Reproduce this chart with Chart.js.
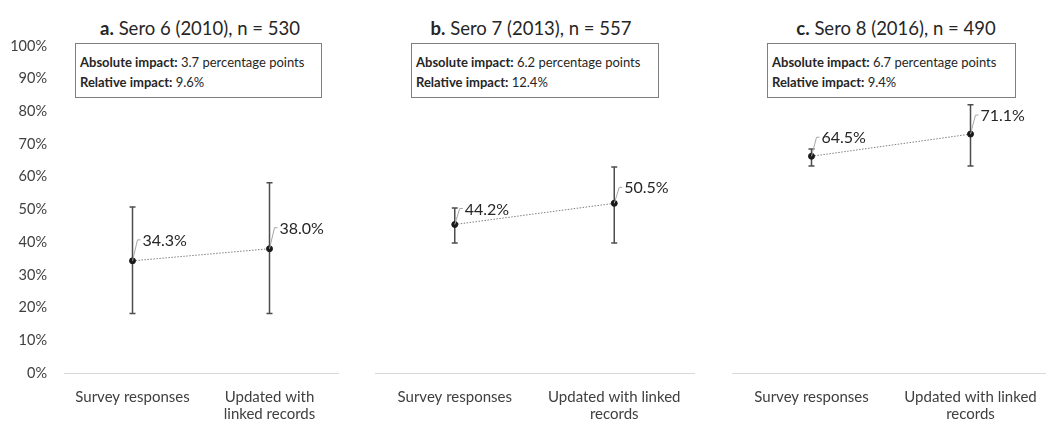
<!DOCTYPE html>
<html>
<head>
<meta charset="utf-8">
<script src="https://cdn.jsdelivr.net/npm/chart.js@4.4.1/dist/chart.umd.min.js"></script>
<style>
    html, body { margin: 0; padding: 0; background: #fff; overflow: hidden; }
    body { width: 1046px; height: 422px; position: relative; font-family: Lato, "Open Sans", sans-serif; color: #262626; }
    canvas { position: absolute; top: 0; }
    .title { position: absolute; top: 15px; width: 300px; text-align: center; font-size: 18.5px; line-height: 26px; }
    .box { position: absolute; top: 43px; height: 55px; box-sizing: border-box; border: 1px solid #7f7f7f; padding: 8px 0 0 4px; font-size: 13px; line-height: 20px; }
</style>
</head>
<body>
<div class="title" id="title0" style="left:50px"></div>
<div class="title" id="title1" style="left:381px"></div>
<div class="title" id="title2" style="left:746px"></div>
<div class="box" id="box0" style="left:75px;width:247px"></div>
<div class="box" id="box1" style="left:411px;width:248px"></div>
<div class="box" id="box2" style="left:767px;width:249px"></div>
<canvas id="chart0" width="343" height="422" style="left:0px"></canvas>
<canvas id="chart1" width="329" height="422" style="left:370px"></canvas>
<canvas id="chart2" width="328" height="422" style="left:727px"></canvas>
<script>
// data
const titlePrefixes = ['a.', 'b.', 'c.'];
const titleTexts = ['Sero 6 (2010), n = 530', 'Sero 7 (2013), n = 557', 'Sero 8 (2016), n = 490'];
const absoluteImpact = ['3.7 percentage points', '6.2 percentage points', '6.7 percentage points'];
const relativeImpact = ['9.6%', '12.4%', '9.4%'];

const tickLabelsWide = ['Survey responses', ['Updated with', 'linked records']];
const tickLabelsNarrow = ['Survey responses', ['Updated with linked', 'records']];
const yTicks = [0, 10, 20, 30, 40, 50, 60, 70, 80, 90, 100];

const sero6Values = [34.3, 38.0];
const sero6Lower = [18.2, 18.2];
const sero6Upper = [50.8, 58.2];

const sero7Values = [44.2, 50.5];
const sero7Lower = [38.7, 38.7];
const sero7Upper = [49.1, 61.3];

const sero8Values = [64.5, 71.1];
const sero8Lower = [61.6, 61.6];
const sero8Upper = [66.7, 79.8];

const FONT = 'Lato, "Open Sans", sans-serif';

// error bars drawn under the points
const errorBarsPlugin = {
    id: 'errorBars',
    beforeDatasetsDraw(chart, args, opts) {
        const ctx = chart.ctx;
        const x = chart.scales.x;
        const y = chart.scales.y;
        ctx.save();
        ctx.strokeStyle = '#4d4d4d';
        ctx.lineWidth = 1.5;
        opts.lower.forEach((lo, i) => {
            const px = x.getPixelForValue(i);
            const top = y.getPixelForValue(opts.upper[i]);
            const bot = y.getPixelForValue(lo);
            ctx.beginPath();
            ctx.moveTo(px, top);
            ctx.lineTo(px, bot);
            ctx.moveTo(px - 3, top);
            ctx.lineTo(px + 3, top);
            ctx.moveTo(px - 3, bot);
            ctx.lineTo(px + 3, bot);
            ctx.stroke();
        });
        ctx.restore();
    }
};

// value labels with a small leader line
const pointLabelsPlugin = {
    id: 'pointLabels',
    afterDatasetsDraw(chart, args, opts) {
        const ctx = chart.ctx;
        const meta = chart.getDatasetMeta(0);
        const values = chart.data.datasets[0].data;
        ctx.save();
        meta.data.forEach((pt, i) => {
            const dy = opts.dy;
            ctx.strokeStyle = '#a6a6a6';
            ctx.lineWidth = 1;
            ctx.beginPath();
            ctx.moveTo(pt.x, pt.y);
            ctx.lineTo(pt.x + 5, pt.y + dy);
            ctx.lineTo(pt.x + 8, pt.y + dy);
            ctx.stroke();
            ctx.fillStyle = '#262626';
            ctx.font = '16px ' + FONT;
            ctx.textAlign = 'left';
            ctx.textBaseline = 'middle';
            ctx.fillText(values[i].toFixed(1) + '%', pt.x + 10, pt.y + dy + 1);
        });
        ctx.restore();
    }
};

function makePanel(idx, values, lower, upper, tickLabels, showY, topPad, labelDy) {
    document.getElementById('title' + idx).innerHTML =
        '<b>' + titlePrefixes[idx] + '</b> ' + titleTexts[idx];
    document.getElementById('box' + idx).innerHTML =
        '<b>Absolute impact:</b> ' + absoluteImpact[idx] + '<br><b>Relative impact:</b> ' + relativeImpact[idx];

    const ctx = document.getElementById('chart' + idx).getContext('2d');
    return new Chart(ctx, {
        type: 'line',
        data: {
            labels: tickLabels,
            datasets: [{
                data: values,
                borderColor: '#7f7f7f',
                borderWidth: 1,
                borderDash: [1.5, 1.5],
                pointRadius: 3,
                pointBackgroundColor: '#1a1a1a',
                pointBorderColor: '#1a1a1a',
                pointBorderWidth: 1,
                tension: 0
            }]
        },
        options: {
            responsive: false,
            animation: false,
            devicePixelRatio: 1,
            layout: {
                padding: { top: topPad, right: 0, bottom: 0, left: 0 }
            },
            scales: {
                x: {
                    offset: true,
                    grid: { display: false, drawTicks: false },
                    border: { display: true, color: '#d9d9d9', width: 1 },
                    ticks: {
                        autoSkip: false,
                        maxRotation: 0,
                        minRotation: 0,
                        padding: 16,
                        color: '#404040',
                        font: { family: FONT, size: 15, lineHeight: 1.1 }
                    },
                    afterFit: axis => {
                        axis.height = 49;
                        axis.paddingLeft = 0;
                        axis.paddingRight = 0;
                    }
                },
                y: {
                    display: showY,
                    min: 0,
                    max: 100,
                    grid: { display: false, drawTicks: false },
                    border: { display: false },
                    afterBuildTicks: axis => { axis.ticks = yTicks.map(v => ({ value: v })); },
                    afterFit: axis => { axis.width = showY ? 64 : 0; },
                    ticks: {
                        padding: 17,
                        color: '#404040',
                        font: { family: FONT, size: 14.5 },
                        callback: v => v + '%'
                    }
                }
            },
            plugins: {
                legend: { display: false },
                tooltip: { enabled: false },
                errorBars: { lower: lower, upper: upper },
                pointLabels: { dy: labelDy }
            }
        },
        plugins: [errorBarsPlugin, pointLabelsPlugin]
    });
}

makePanel(0, sero6Values, sero6Lower, sero6Upper, tickLabelsWide, true, 46, -21);
makePanel(1, sero7Values, sero7Lower, sero7Upper, tickLabelsNarrow, false, 37, -16);
makePanel(2, sero8Values, sero8Lower, sero8Upper, tickLabelsNarrow, false, 37, -19);
</script>
</body>
</html>
